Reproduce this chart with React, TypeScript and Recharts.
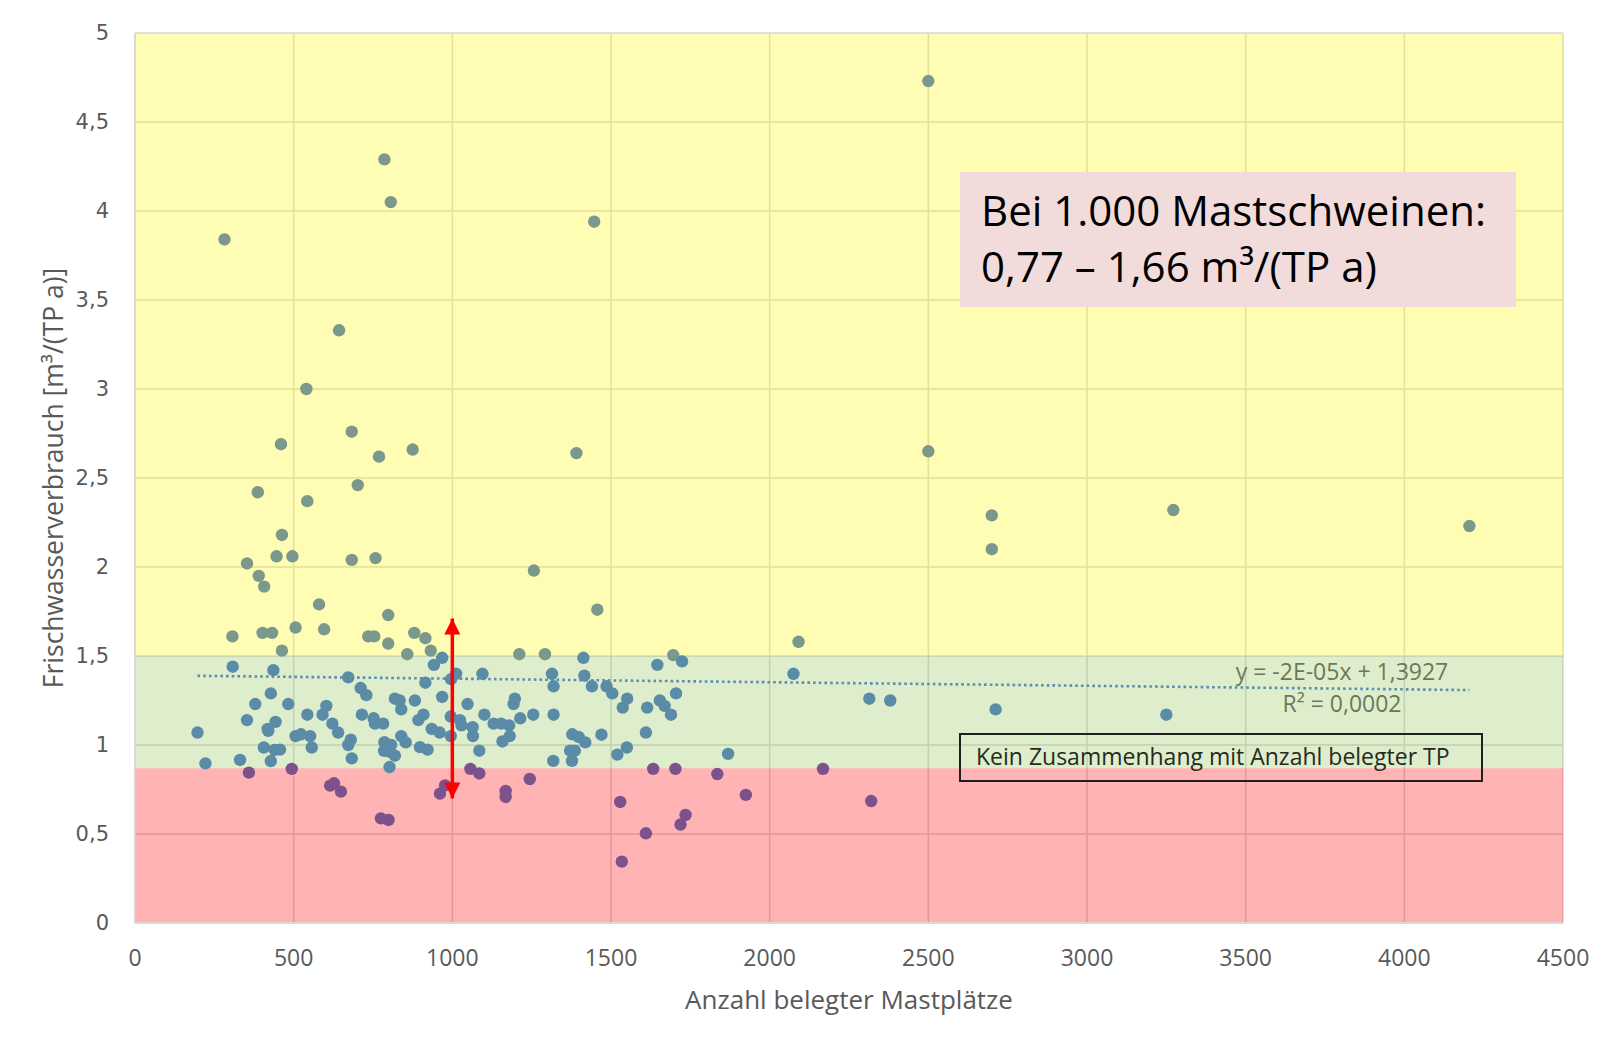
import React from "react";
import {
  ScatterChart,
  Scatter,
  XAxis,
  YAxis,
  CartesianGrid,
  ReferenceArea,
  ReferenceLine,
} from "recharts";

const xTicks = [0, 500, 1000, 1500, 2000, 2500, 3000, 3500, 4000, 4500];
const yTicks = [0, 0.5, 1, 1.5, 2, 2.5, 3, 3.5, 4, 4.5, 5];

// zone limits of the fresh water use [m³/(TP a)]
const zoneLow = 0.87;
const zoneHigh = 1.5;

// farms above the target range
const highPoints: [number, number][] = [
  [786, 4.29], [806, 4.05], [282, 3.84], [1447, 3.94], [643, 3.33], [540, 3.0],
  [683, 2.76], [460, 2.69], [769, 2.62], [875, 2.66], [1391, 2.64], [2500, 4.73],
  [2500, 2.65], [2700, 2.29], [2700, 2.1], [3272, 2.32], [4205, 2.23], [387, 2.42],
  [702, 2.46], [543, 2.37], [463, 2.18], [446, 2.06], [496, 2.06], [353, 2.02],
  [683, 2.04], [758, 2.05], [390, 1.95], [407, 1.89], [1257, 1.98], [580, 1.79],
  [798, 1.73], [1457, 1.76], [307, 1.61], [402, 1.63], [432, 1.63], [506, 1.66],
  [596, 1.65], [735, 1.61], [754, 1.61], [798, 1.57], [880, 1.63], [915, 1.6],
  [463, 1.53], [858, 1.51], [932, 1.53], [1211, 1.51], [1292, 1.51], [2091, 1.58],
  [1696, 1.505],
];

// farms inside the target range
const midPoints: [number, number][] = [
  [968, 1.49], [1413, 1.49], [1724, 1.47], [1646, 1.45], [308, 1.44], [436, 1.42],
  [942, 1.45], [672, 1.38], [1012, 1.4], [996, 1.37], [1095, 1.4], [1314, 1.4],
  [1416, 1.39], [2075, 1.4], [915, 1.35], [1319, 1.33], [1440, 1.33], [1486, 1.33],
  [1504, 1.29], [1705, 1.29], [1551, 1.26], [1537, 1.21], [1614, 1.21], [1654, 1.25],
  [1669, 1.22], [1689, 1.17], [711, 1.32], [729, 1.28], [428, 1.29], [379, 1.23],
  [483, 1.23], [819, 1.26], [834, 1.25], [839, 1.2], [882, 1.25], [968, 1.27],
  [1048, 1.23], [1197, 1.26], [1193, 1.23], [603, 1.22], [591, 1.17], [543, 1.17],
  [715, 1.17], [909, 1.17], [893, 1.14], [995, 1.16], [1101, 1.17], [1255, 1.17],
  [1319, 1.17], [1214, 1.15], [353, 1.14], [443, 1.13], [418, 1.09], [420, 1.08],
  [752, 1.15], [756, 1.12], [782, 1.12], [622, 1.12], [640, 1.07], [1024, 1.14],
  [1029, 1.11], [1064, 1.1], [1065, 1.05], [1130, 1.12], [1154, 1.12], [1179, 1.11],
  [1181, 1.05], [1158, 1.02], [935, 1.09], [960, 1.07], [995, 1.05], [506, 1.05],
  [523, 1.06], [552, 1.05], [680, 1.03], [672, 1.0], [839, 1.05], [853, 1.015],
  [786, 1.016], [807, 1.0], [785, 0.967], [803, 0.962], [819, 0.94], [557, 0.986],
  [406, 0.986], [440, 0.972], [457, 0.974], [898, 0.988], [922, 0.974], [1085, 0.968],
  [1378, 1.06], [1398, 1.045], [1419, 1.015], [1470, 1.058], [1610, 1.07], [1371, 0.968],
  [1386, 0.968], [1377, 0.911], [1318, 0.911], [1520, 0.946], [1550, 0.986], [197, 1.07],
  [222, 0.897], [331, 0.916], [428, 0.91], [683, 0.925], [802, 0.876], [2314, 1.26],
  [2380, 1.25], [2712, 1.2], [3250, 1.17], [1869, 0.95],
];

// farms below the target range
const lowPoints: [number, number][] = [
  [494, 0.866], [1057, 0.866], [1085, 0.84], [359, 0.845], [615, 0.772], [627, 0.785],
  [649, 0.738], [961, 0.727], [977, 0.773], [1168, 0.742], [1168, 0.708], [1244, 0.809],
  [775, 0.588], [799, 0.579], [1529, 0.68], [1534, 0.345], [1633, 0.866], [1703, 0.866],
  [1835, 0.837], [2168, 0.866], [1925, 0.72], [2320, 0.685], [1735, 0.607], [1719, 0.553],
  [1610, 0.504],
];

// linear trend as printed in the chart
const trendSlope = -0.00002;
const trendIntercept = 1.3927;
const trendFrom = 197;
const trendTo = 4205;

// red range arrow at 1.000 places
const arrowX = 1000;
const arrowBottom = 0.7;
const arrowTop = 1.71;

const toXY = (list: [number, number][]) => list.map(([x, y]) => ({ x, y }));
const fmt = (v: number) => String(v).replace(".", ",");

const dot = (p: any) => <circle cx={p.cx} cy={p.cy} r={6.2} fill={p.fill} />;

const arrowHead = (p: any) => {
  const up = p.payload.y === arrowTop;
  const d = up ? 16 : -16;
  return (
    <polygon
      points={`${p.cx},${p.cy} ${p.cx - 8},${p.cy + d} ${p.cx + 8},${p.cy + d}`}
      fill="#ff0000"
    />
  );
};

export default function App() {
  const font = '"Open Sans", sans-serif';
  return (
    <div style={{ position: "relative", width: 1601, height: 1022, fontFamily: font }}>
      <div
        style={{
          position: "absolute", left: -8, top: -8, width: 8, height: 1038,
          background: "linear-gradient(to right, #d9d9d9, #f2f2f2)",
        }}
      />
      <div style={{ position: "absolute", left: -1, top: -5, width: 1, height: 1032, background: "#d4d4d4" }} />
      <ScatterChart width={1601} height={1022} margin={{ top: 25, right: 46, bottom: 47, left: 0 }}>
        <ReferenceArea x1={0} x2={4500} y1={zoneHigh} y2={5} fill="#fff805" fillOpacity={0.3} stroke="none" />
        <ReferenceArea x1={0} x2={4500} y1={zoneLow} y2={zoneHigh} fill="#91c655" fillOpacity={0.3} stroke="none" />
        <ReferenceArea x1={0} x2={4500} y1={0} y2={zoneLow} fill="#ff0208" fillOpacity={0.3} stroke="none" />
        <CartesianGrid stroke="#d6d6d6" strokeWidth={1.5} />
        <XAxis
          type="number"
          dataKey="x"
          domain={[0, 4500]}
          ticks={xTicks}
          tickLine={false}
          axisLine={{ stroke: "#d9d9d9", strokeWidth: 2 }}
          tick={{ fill: "#595959", fontSize: 23, fontFamily: font }}
          tickMargin={21}
          height={60}
          label={{
            value: "Anzahl belegter Mastplätze",
            position: "bottom",
            offset: 8,
            fill: "#595959",
            fontSize: 26,
            fontFamily: font,
          }}
        />
        <YAxis
          type="number"
          dataKey="y"
          domain={[0, 5]}
          ticks={yTicks}
          tickFormatter={fmt}
          width={127}
          tickLine={false}
          axisLine={{ stroke: "#d9d9d9", strokeWidth: 1.5 }}
          tick={{ fill: "#595959", fontSize: 21, fontFamily: "DejaVu Sans" }}
          tickMargin={20}
          label={{
            value: "Frischwasserverbrauch  [m³/(TP a)]",
            angle: -90,
            position: "insideLeft",
            offset: 46,
            fill: "#595959",
            fontSize: 26.5,
            fontFamily: font,
            style: { textAnchor: "middle", whiteSpace: "pre" },
          }}
        />
        <ReferenceLine
          segment={[
            { x: trendFrom, y: trendIntercept + trendSlope * trendFrom },
            { x: trendTo, y: trendIntercept + trendSlope * trendTo },
          ]}
          stroke="#5b8db2"
          strokeWidth={2.6}
          strokeDasharray="2.6 3.1"
        />
        <Scatter data={toXY(highPoints)} fill="#7a988c" shape={dot} isAnimationActive={false} />
        <Scatter data={toXY(midPoints)} fill="#5a8ca7" shape={dot} isAnimationActive={false} />
        <Scatter data={toXY(lowPoints)} fill="#7d528c" shape={dot} isAnimationActive={false} />
        <Scatter
          data={[
            { x: arrowX, y: arrowBottom },
            { x: arrowX, y: arrowTop },
          ]}
          fill="#ff0000"
          line={{ stroke: "#ff0000", strokeWidth: 3.5 }}
          lineType="joint"
          shape={arrowHead}
          isAnimationActive={false}
        />
      </ScatterChart>

      <div
        style={{
          position: "absolute", left: 952, top: 164, width: 556, height: 135,
          boxSizing: "border-box", background: "#f2dcdb", padding: "10px 0 0 21px",
          fontSize: 42, lineHeight: "56px", color: "#000", whiteSpace: "nowrap",
        }}
      >
        <div>Bei 1.000 Mastschweinen:</div>
        <div>0,77 – 1,66 m³/(TP a)</div>
      </div>

      <div
        style={{
          position: "absolute", left: 1184, top: 647, width: 300, textAlign: "center",
          fontSize: 23, lineHeight: "32px", color: "#6b7859", whiteSpace: "nowrap",
        }}
      >
        <div>y = -2E-05x + 1,3927</div>
        <div>R² = 0,0002</div>
      </div>

      <div
        style={{
          position: "absolute", left: 951, top: 725, width: 524, height: 49,
          boxSizing: "border-box", border: "2px solid #1f1f1f", padding: "6px 0 0 15px",
          fontSize: 23, lineHeight: "31px", color: "#262a20", whiteSpace: "nowrap",
        }}
      >
        Kein Zusammenhang mit Anzahl belegter TP
      </div>
    </div>
  );
}
